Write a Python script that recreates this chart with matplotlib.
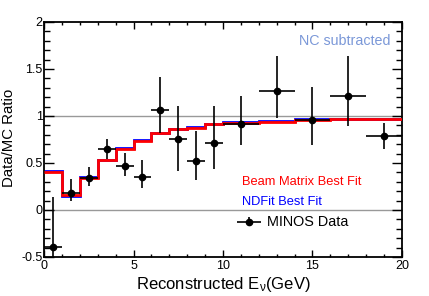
import numpy as np
import matplotlib
matplotlib.use('Agg')
import matplotlib.pyplot as plt
from matplotlib.ticker import MultipleLocator

plt.rcParams['font.family'] = ['Liberation Sans', 'DejaVu Sans']
plt.rcParams['mathtext.default'] = 'regular'

# bin edges (GeV)
edges = [0, 1, 2, 3, 4, 5, 6, 7, 8, 9, 10, 12, 14, 16, 18, 20]

# best fit predictions per bin
beam_matrix = [0.405, 0.16, 0.344, 0.53, 0.65, 0.737, 0.815, 0.86, 0.876,
               0.91, 0.93, 0.94, 0.96, 0.965, 0.97]
ndfit = [0.415, 0.145, 0.355, 0.53, 0.66, 0.745, 0.82, 0.865, 0.88,
         0.912, 0.932, 0.942, 0.965, 0.97, 0.972]

# MINOS data
data_y = [-0.39, 0.184, 0.344, 0.649, 0.47, 0.35, 1.064, 0.755, 0.525,
          0.716, 0.91, 1.27, 0.96, 1.21, 0.79]
err_up = [0.525, 0.142, 0.116, 0.111, 0.14, 0.18, 0.346, 0.351, 0.319,
          0.39, 0.30, 0.37, 0.35, 0.43, 0.14]
err_dn = [0.60, 0.088, 0.089, 0.109, 0.11, 0.12, 0.249, 0.34, 0.205,
          0.276, 0.22, 0.29, 0.27, 0.32, 0.144]

edges_arr = np.array(edges)
centers = (edges_arr[:-1] + edges_arr[1:]) / 2
half_w = (edges_arr[1:] - edges_arr[:-1]) / 2

fig = plt.figure(figsize=(4.29, 2.96), dpi=100)
ax = fig.add_axes([0.1026, 0.132, 0.8344, 0.7937])

ax.axhline(0, color='#999999', lw=1, zorder=1)
ax.axhline(1, color='#999999', lw=1, zorder=1)

ax.stairs(ndfit, edges, color='#0000ff', lw=2, baseline=None, zorder=2)
ax.stairs(beam_matrix, edges, color='#ff0000', lw=2, baseline=None, zorder=3)

ax.errorbar(centers, data_y, xerr=half_w, yerr=[err_dn, err_up], fmt='o',
            color='black', ms=4.5, elinewidth=1.2, capsize=0, zorder=4)

ax.set_xlim(0, 20)
ax.set_ylim(-0.5, 2)

ax.xaxis.set_major_locator(MultipleLocator(5))
ax.xaxis.set_minor_locator(MultipleLocator(1))
ax.yaxis.set_major_locator(MultipleLocator(0.5))
ax.yaxis.set_minor_locator(MultipleLocator(0.1))
ax.yaxis.set_major_formatter(plt.FuncFormatter(lambda v, p: '%g' % v))

ax.tick_params(axis='both', which='both', direction='in', top=True, right=True,
               labelsize=9, width=1)
ax.tick_params(axis='x', which='major', length=5, pad=2)
ax.tick_params(axis='x', which='minor', length=2.5)
ax.tick_params(axis='y', which='major', length=7.5, pad=1)
ax.tick_params(axis='y', which='minor', length=4)
for s in ax.spines.values():
    s.set_linewidth(1.3)

ax.set_xlabel(r'Reconstructed E$_{\nu}$(GeV)', fontsize=12)
ax.set_ylabel('Data/MC Ratio', fontsize=10.8)
ax.xaxis.set_label_coords(0.5, -0.075)
ax.yaxis.set_label_coords(-0.078, 0.505)

ax.text(14.25, 1.80, 'NC subtracted', color='#7b98d8', fontsize=10.3,
        ha='left', va='center')
ax.text(11.06, 0.30, 'Beam Matrix Best Fit', color='#ff0000', fontsize=9.3,
        ha='left', va='center')
ax.text(11.06, 0.085, 'NDFit Best Fit', color='#0000ff', fontsize=9.3,
        ha='left', va='center')
# legend entry for data
ax.errorbar([11.45], [-0.125], xerr=[0.65], yerr=[0.05], fmt='o',
            color='black', ms=4.5, elinewidth=1.2, capsize=0)
ax.text(12.45, -0.125, 'MINOS Data', color='black', fontsize=10.4,
        ha='left', va='center')

fig.savefig('out.png', dpi=100)
